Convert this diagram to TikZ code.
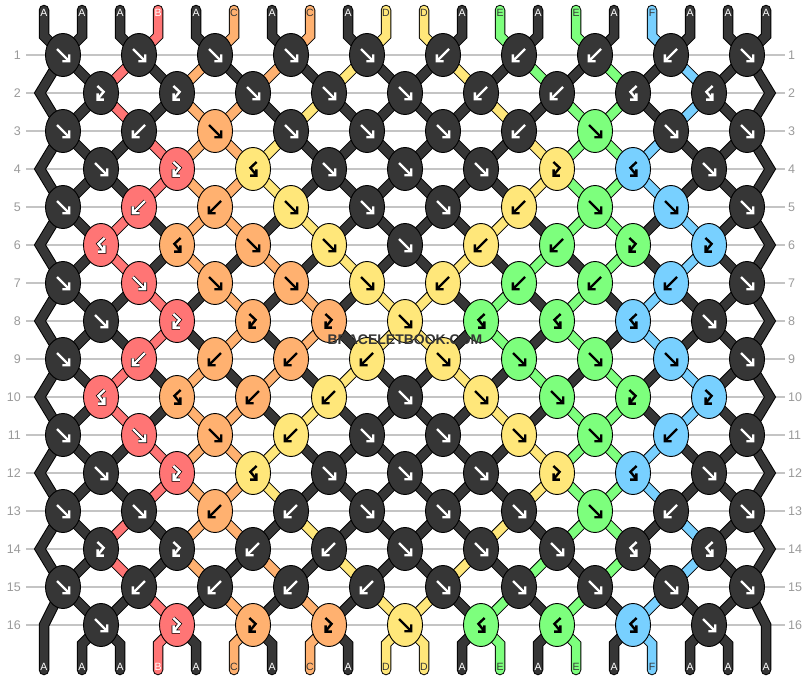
\documentclass[tikz,border=0pt]{standalone}
\usepackage{fontspec}
\setmainfont{Liberation Sans}
\usetikzlibrary{shapes.geometric}

\definecolor{colA}{HTML}{363636}
\definecolor{colB}{HTML}{FF7575}
\definecolor{colC}{HTML}{FFB170}
\definecolor{colD}{HTML}{FFE77A}
\definecolor{colE}{HTML}{7DFF7D}
\definecolor{colF}{HTML}{78D0FF}
\definecolor{numgray}{HTML}{9A9A9A}
\definecolor{linegray}{HTML}{C4C4C4}
\colorlet{arwA}{white}\colorlet{arwB}{white}\colorlet{arwC}{black}
\colorlet{arwD}{black}\colorlet{arwE}{black}\colorlet{arwF}{black}
\colorlet{haloA}{colA}\colorlet{haloB}{black}\colorlet{haloC}{colC}
\colorlet{haloD}{colD}\colorlet{haloE}{colE}\colorlet{haloF}{colF}
\colorlet{txtA}{white}\colorlet{txtB}{white}\colorlet{txtC}{colA}
\colorlet{txtD}{colA}\colorlet{txtE}{colA}\colorlet{txtF}{colA}

\pgfdeclarelayer{strings}
\pgfsetlayers{strings,main}

\def\gf{(-6,-6) -- (5,5) (6.2,-0.6) -- (6.2,6.2) -- (-0.6,6.2)}
\def\gb{(6,-6) -- (-5,5) (-6.2,-0.6) -- (-6.2,6.2) -- (0.6,6.2)}
\def\gfb{(-3.6,-7) -- (2.6,-1.2) -- (-2.6,5.2) (-3.4,0.4) -- (-3.4,6.6) -- (2.8,6.6)}
\def\gbf{(3.6,-7) -- (-2.6,-1.2) -- (2.6,5.2) (3.4,0.4) -- (3.4,6.6) -- (-2.8,6.6)}

\def\stA{A,A,A,B,A,C,A,C,A,D,D,A,E,A,E,A,F,A,A,A}
\def\stB{A,A,B,A,C,A,C,A,D,A,A,D,A,E,A,E,A,F,A,A}
\def\stC{A,A,B,A,C,C,A,D,A,A,A,A,D,A,E,E,A,F,A,A}
\def\stD{A,A,A,B,C,C,D,A,A,A,A,A,A,D,E,E,F,A,A,A}

\tikzset{
  knot/.style={ellipse, draw=black, line width=0.9pt, minimum width=35pt, minimum height=43pt, inner sep=0pt},
  glyph/.style={line width=2.4pt, line join=miter, line cap=butt},
  strout/.style={draw=black, line width=10.5pt, line cap=round, line join=miter},
  strin/.style={draw=col#1, line width=8.5pt, line cap=round, line join=miter},
  gridline/.style={draw=linegray, line width=1.2pt},
  rownum/.style={text=numgray, font=\fontsize{12.5}{12.5}\selectfont, inner sep=0pt},
  endlab/.style={font=\fontsize{10.5}{10.5}\selectfont, inner sep=0pt},
  wmark/.style={font=\bfseries\fontsize{14}{14}\selectfont, inner sep=0pt},
}

\newcommand\knot[5]{%
  \node[knot, fill=col#5] (#1) at (#2,#3) {};
  \expandafter\let\expandafter\gl\csname g#4\endcsname
  \begin{scope}[shift={(#2,#3)}]
    \draw[glyph, draw=halo#5, line width=3.8pt] \gl;
    \draw[glyph, draw=arw#5] \gl;
  \end{scope}}

\newcommand\knotrow[2]{%
  \ifodd#1\relax\def\xo{63}\else\def\xo{101}\fi
  \foreach \ty/\cl [count=\kn from 0] in {#2}{%
    \pgfmathsetmacro\kx{\xo+76*\kn}%
    \pgfmathsetmacro\ky{17+38*#1}%
    \knot{r#1-\kn}{\kx}{\ky}{\ty}{\cl}}}

\newcommand\posname[2]{%
  \ifodd#1\relax
    \pgfmathtruncatemacro\kk{#2/2}\edef\pn{r#1-\kk}%
  \else
    \pgfmathtruncatemacro\kk{(#2-1)/2}\edef\pn{r#1-\kk}%
  \fi}

% #1 style, #2 row, #3 colours of the strings below that row
\newcommand\strrow[3]{%
  \pgfmathtruncatemacro\nr{#2+1}%
  \foreach \cl [count=\p from 0] in #3 {%
    \ifnum\p>0\relax\ifnum\p<19\relax
      \posname{#2}{\p}\let\pa\pn
      \posname{\nr}{\p}\let\pb\pn
      \draw[#1=\cl] (\pa.center) -- (\pb.center);
    \fi\fi}}

\newcommand\allstrings[1]{%
  \draw[#1=A] (te0) -- (tb0) \foreach \r/\s in {1/2,3/4,5/6,7/8,9/10,11/12,13/14,15/16}{ -- (r\r-0.center) -- (eL\s)} -- (be0);
  \draw[#1=A] (te19) -- (tb19) \foreach \r/\s in {1/2,3/4,5/6,7/8,9/10,11/12,13/14,15/16}{ -- (r\r-9.center) -- (eR\s)} -- (be19);
  \foreach \cl [count=\p from 0] in \stA {
    \ifnum\p>0\relax\ifnum\p<19\relax
      \pgfmathtruncatemacro\kk{\p/2}
      \draw[#1=\cl] (te\p) -- (tb\p) -- (r1-\kk.center);
      \pgfmathtruncatemacro\kk{(\p-1)/2}
      \draw[#1=\cl] (r16-\kk.center) -- (bb\p) -- (be\p);
    \fi\fi}
  \strrow{#1}{1}{\stB}
  \strrow{#1}{2}{\stC}
  \strrow{#1}{3}{\stD}
  \strrow{#1}{4}{\stD}
  \strrow{#1}{5}{\stC}
  \strrow{#1}{6}{\stB}
  \strrow{#1}{7}{\stA}
  \strrow{#1}{8}{\stA}
  \strrow{#1}{9}{\stB}
  \strrow{#1}{10}{\stC}
  \strrow{#1}{11}{\stD}
  \strrow{#1}{12}{\stD}
  \strrow{#1}{13}{\stC}
  \strrow{#1}{14}{\stB}
  \strrow{#1}{15}{\stA}}

\begin{document}
\begin{tikzpicture}[x=1pt,y=-1pt]
\useasboundingbox (0,0) rectangle (810,680);

\foreach \r in {1,...,16}{
  \node[rownum, anchor=east] (nl\r) at (21,17+38*\r) {\r};
  \node[rownum, anchor=west] (nr\r) at (788,17+38*\r) {\r};
}

\knotrow{1}{f/A,f/A,f/A,f/A,f/A,b/A,b/A,b/A,b/A,f/A}
\knotrow{2}{fb/A,fb/A,f/A,f/A,f/A,b/A,b/A,bf/A,bf/A}
\knotrow{3}{f/A,b/A,f/C,f/A,f/A,f/A,b/A,f/E,f/A,f/A}
\knotrow{4}{f/A,fb/B,bf/D,f/A,f/A,f/A,fb/D,bf/F,f/A}
\knotrow{5}{f/A,b/B,b/C,f/D,f/A,f/A,b/D,f/E,f/F,f/A}
\knotrow{6}{bf/B,bf/C,f/C,f/D,f/A,b/D,b/E,fb/E,fb/F}
\knotrow{7}{f/A,f/B,f/C,f/C,f/D,b/D,b/E,b/E,b/F,f/A}
\knotrow{8}{f/A,fb/B,fb/C,fb/C,f/D,bf/E,bf/E,bf/F,f/A}
\knotrow{9}{f/A,b/B,b/C,b/C,b/D,f/D,f/E,f/E,f/F,f/A}
\knotrow{10}{bf/B,bf/C,b/C,b/D,f/A,f/D,f/E,fb/E,fb/F}
\knotrow{11}{f/A,f/B,f/C,b/D,f/A,f/A,f/D,f/E,b/F,f/A}
\knotrow{12}{f/A,fb/B,bf/D,f/A,f/A,f/A,fb/D,bf/F,f/A}
\knotrow{13}{f/A,f/A,b/C,b/A,f/A,f/A,f/A,f/E,b/A,f/A}
\knotrow{14}{fb/A,fb/A,b/A,b/A,f/A,f/A,f/A,bf/A,bf/A}
\knotrow{15}{f/A,b/A,b/A,b/A,b/A,f/A,f/A,f/A,f/A,f/A}
\knotrow{16}{f/A,fb/B,fb/C,fb/C,f/D,bf/E,bf/E,bf/F,f/A}

\foreach \r in {2,4,...,14}{
  \coordinate (eL\r) at (40,17+38*\r);
  \coordinate (eR\r) at (770,17+38*\r);
}
\coordinate (eL16) at (44,625);
\coordinate (eR16) at (766,625);
\foreach \p in {0,...,19}{
  \coordinate (te\p) at (44+38*\p,10);
  \coordinate (tb\p) at (44+38*\p,36);
  \coordinate (bb\p) at (44+38*\p,644);
  \coordinate (be\p) at (44+38*\p,670);
}

\begin{pgfonlayer}{strings}
  \foreach \r in {1,...,16}
    \draw[gridline] (26,17+38*\r) -- (785,17+38*\r);
  \allstrings{strout}
  \allstrings{strin}
\end{pgfonlayer}

\foreach \cl [count=\p from 0] in \stA {
  \node[endlab, text=txt\cl] (t\p) at (44+38*\p,13) {\cl};
  \node[endlab, text=txt\cl] (b\p) at (44+38*\p,667) {\cl};
}

\node[wmark, text=colA] (wm) at (405,340) {BRACELETBOOK.COM};
\end{tikzpicture}
\end{document}
